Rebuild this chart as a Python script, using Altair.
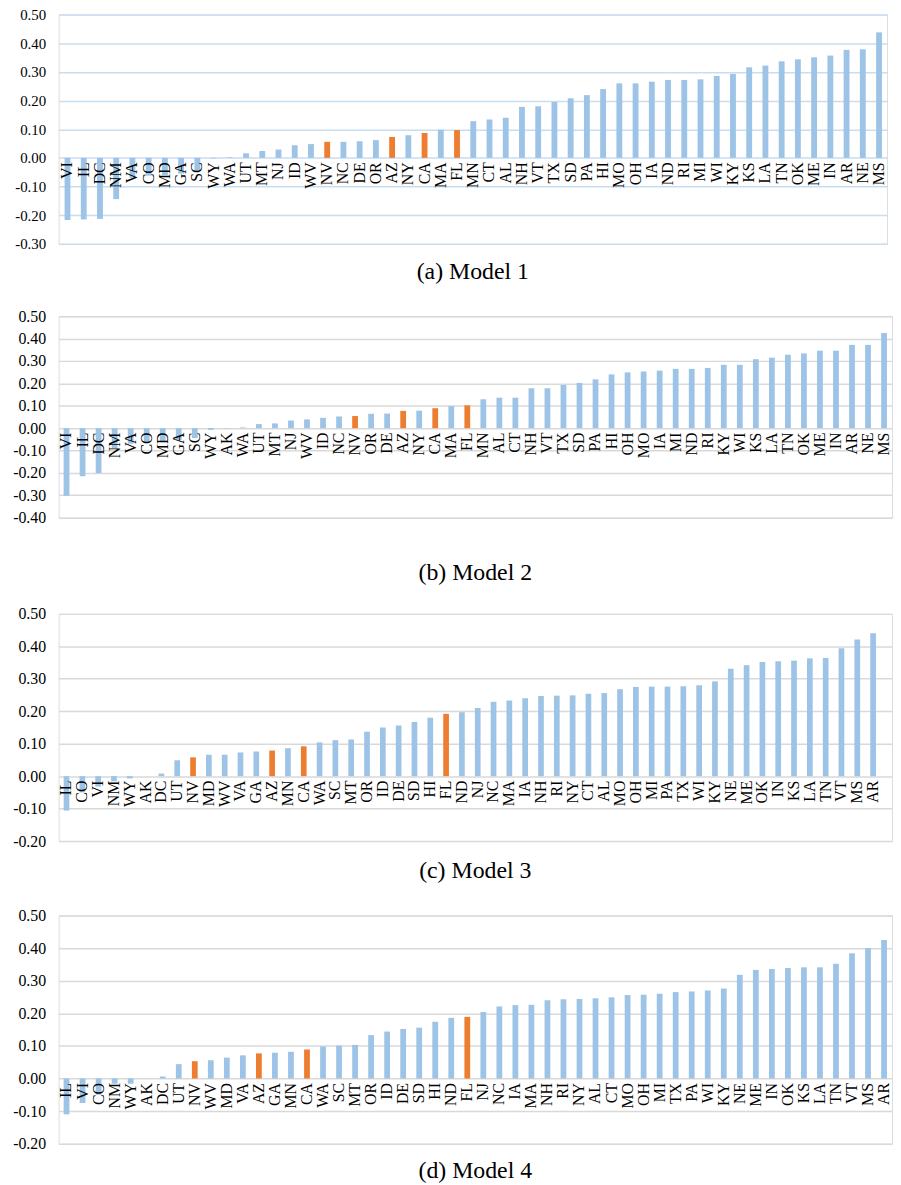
import altair as alt
import pandas as pd

BLUE = "#9DC3E6"
ORANGE = "#ED7D31"
HIGHLIGHT = ["NV", "AZ", "CA", "FL"]
FONT = "Liberation Serif"

# ---------- Model 1 ----------
STATES_1 = ["VI", "IL", "DC", "NM", "VA", "CO", "MD", "GA", "SC", "WY",
            "WA", "UT", "MT", "NJ", "ID", "WV", "NV", "NC", "DE", "OR",
            "AZ", "NY", "CA", "MA", "FL", "MN", "CT", "AL", "NH", "VT",
            "TX", "SD", "PA", "HI", "MO", "OH", "IA", "ND", "RI", "MI",
            "WI", "KY", "KS", "LA", "TN", "OK", "ME", "IN", "AR", "NE", "MS"]
VALUES_1 = [-0.217, -0.215, -0.213, -0.144, -0.070, -0.062, -0.060, -0.055, -0.047, -0.002,
            0.002, 0.016, 0.024, 0.029, 0.044, 0.048, 0.056, 0.056, 0.058, 0.062,
            0.073, 0.079, 0.087, 0.098, 0.097, 0.128, 0.134, 0.140, 0.178, 0.180,
            0.195, 0.208, 0.219, 0.240, 0.260, 0.260, 0.266, 0.272, 0.272, 0.274,
            0.286, 0.293, 0.316, 0.322, 0.337, 0.344, 0.351, 0.357, 0.377, 0.379, 0.438]
TICKS_1 = [-0.3, -0.2, -0.1, 0.0, 0.1, 0.2, 0.3, 0.4, 0.5]

# ---------- Model 2 ----------
STATES_2 = ["VI", "IL", "DC", "NM", "VA", "CO", "MD", "GA", "SC", "WY",
            "AK", "WA", "UT", "MT", "NJ", "WV", "ID", "NC", "NV", "OR",
            "DE", "AZ", "NY", "CA", "MA", "FL", "MN", "AL", "CT", "NH",
            "VT", "TX", "SD", "PA", "HI", "OH", "MO", "IA", "MI", "ND",
            "RI", "KY", "WI", "KS", "LA", "TN", "OK", "ME", "IN", "AR", "NE", "MS"]
VALUES_2 = [-0.302, -0.215, -0.201, -0.090, -0.070, -0.065, -0.060, -0.054, -0.044, -0.008,
            -0.001, 0.003, 0.018, 0.021, 0.034, 0.039, 0.046, 0.052, 0.054, 0.064,
            0.065, 0.077, 0.078, 0.089, 0.098, 0.102, 0.129, 0.136, 0.136, 0.178,
            0.178, 0.193, 0.202, 0.218, 0.240, 0.249, 0.253, 0.257, 0.265, 0.265,
            0.269, 0.283, 0.283, 0.308, 0.315, 0.328, 0.334, 0.346, 0.346, 0.372, 0.372, 0.425]
TICKS_2 = [-0.4, -0.3, -0.2, -0.1, 0.0, 0.1, 0.2, 0.3, 0.4, 0.5]

# ---------- Model 3 ----------
STATES_3 = ["IL", "CO", "VI", "NM", "WY", "AK", "DC", "UT", "NV", "MD",
            "WV", "VA", "GA", "AZ", "MN", "CA", "WA", "SC", "MT", "OR",
            "ID", "DE", "SD", "HI", "FL", "ND", "NJ", "NC", "MA", "IA",
            "NH", "RI", "NY", "CT", "AL", "MO", "OH", "MI", "PA", "TX",
            "WI", "KY", "NE", "ME", "OK", "IN", "KS", "LA", "TN", "VT", "MS", "AR"]
VALUES_3 = [-0.106, -0.050, -0.032, -0.016, -0.007, 0.000, 0.008, 0.049, 0.058, 0.066,
            0.066, 0.073, 0.076, 0.079, 0.086, 0.092, 0.104, 0.111, 0.113, 0.137,
            0.150, 0.156, 0.167, 0.180, 0.192, 0.197, 0.210, 0.229, 0.233, 0.240,
            0.247, 0.248, 0.249, 0.254, 0.256, 0.268, 0.275, 0.276, 0.276, 0.277,
            0.280, 0.292, 0.331, 0.342, 0.352, 0.354, 0.356, 0.363, 0.364, 0.394, 0.421, 0.440]
TICKS_3 = [-0.2, -0.1, 0.0, 0.1, 0.2, 0.3, 0.4, 0.5]

# ---------- Model 4 ----------
STATES_4 = ["IL", "VI", "CO", "NM", "WY", "AK", "DC", "UT", "NV", "WV",
            "MD", "VA", "AZ", "GA", "MN", "CA", "WA", "SC", "MT", "OR",
            "ID", "DE", "SD", "HI", "ND", "FL", "NJ", "NC", "IA", "MA",
            "NH", "RI", "NY", "AL", "CT", "MO", "OH", "MI", "TX", "PA",
            "WI", "KY", "NE", "ME", "IN", "OK", "KS", "LA", "TN", "VT", "MS", "AR"]
VALUES_4 = [-0.110, -0.075, -0.050, -0.016, -0.016, 0.000, 0.006, 0.044, 0.053, 0.056,
            0.064, 0.071, 0.077, 0.079, 0.082, 0.089, 0.098, 0.101, 0.103, 0.133,
            0.144, 0.152, 0.156, 0.174, 0.186, 0.189, 0.204, 0.221, 0.225, 0.226,
            0.240, 0.243, 0.244, 0.246, 0.249, 0.256, 0.257, 0.260, 0.265, 0.267,
            0.270, 0.276, 0.318, 0.333, 0.336, 0.339, 0.341, 0.341, 0.352, 0.384, 0.400, 0.425]
TICKS_4 = [-0.2, -0.1, 0.0, 0.1, 0.2, 0.3, 0.4, 0.5]

TITLES = ["(a) Model 1", "(b) Model 2", "(c) Model 3", "(d) Model 4"]

LABEL_EXPR = "(datum.value < -0.0001 ? '-' : '') + format(abs(datum.value), '.2f')"


def panel(states, values, ticks, height, width, extent, po, align,
          grid_color, title, title_offset, ylabel_size):
    df = pd.DataFrame({"state": states, "value": values})
    ymin, ymax = ticks[0], ticks[-1]
    zero_from_bottom = height * (0 - ymin) / (ymax - ymin)
    return alt.Chart(df).mark_bar().encode(
        x=alt.X("state:N", sort=None,
                scale=alt.Scale(paddingInner=0.64, paddingOuter=po, align=align),
                axis=alt.Axis(orient="bottom", offset=-zero_from_bottom, labelAngle=270,
                              labelPadding=4, domain=False, ticks=False, title=None,
                              labelFont=FONT, labelFontSize=16, labelColor="black",
                              labelOverlap=False, grid=False, zindex=1)),
        y=alt.Y("value:Q", scale=alt.Scale(domain=[ymin, ymax], nice=False, zero=False),
                axis=alt.Axis(values=ticks, labelExpr=LABEL_EXPR, grid=True,
                              gridColor=grid_color, gridWidth=1.5, domain=False,
                              ticks=False, title=None, labelPadding=13,
                              labelFont=FONT, labelFontSize=ylabel_size, labelColor="black",
                              minExtent=extent, maxExtent=extent)),
        color=alt.condition(alt.FieldOneOfPredicate(field="state", oneOf=HIGHLIGHT),
                            alt.value(ORANGE), alt.value(BLUE)),
    ).properties(
        width=width, height=height,
        title=alt.TitleParams(title, orient="bottom", offset=title_offset, font=FONT,
                              fontSize=24, fontWeight="normal", color="black",
                              anchor="middle"),
    )


p1 = panel(STATES_1, VALUES_1, TICKS_1, 231, 835, 50, 0.341, 0.54, "#C9DDF1", TITLES[0], 8, 15)
p2 = panel(STATES_2, VALUES_2, TICKS_2, 203, 840, 45, 0.315, 0.5, "#D9D9D9", TITLES[1], 36, 16)
p3 = panel(STATES_3, VALUES_3, TICKS_3, 229, 840, 45, 0.668, 0.24, "#D9D9D9", TITLES[2], 10, 16)
p4 = panel(STATES_4, VALUES_4, TICKS_4, 230, 840, 45, 0.315, 0.5, "#D9D9D9", TITLES[3], 8, 16)

top = alt.vconcat(p1, p2, spacing=23)
bottom = alt.vconcat(p3, p4, spacing=23)
chart = alt.vconcat(top, bottom, spacing=19).properties(
    padding={"left": 0, "top": -6, "right": 0, "bottom": 0}
).configure_view(strokeWidth=0).configure(background="white")

chart.save("out.html", embed_options={"renderer": "svg", "actions": False})
